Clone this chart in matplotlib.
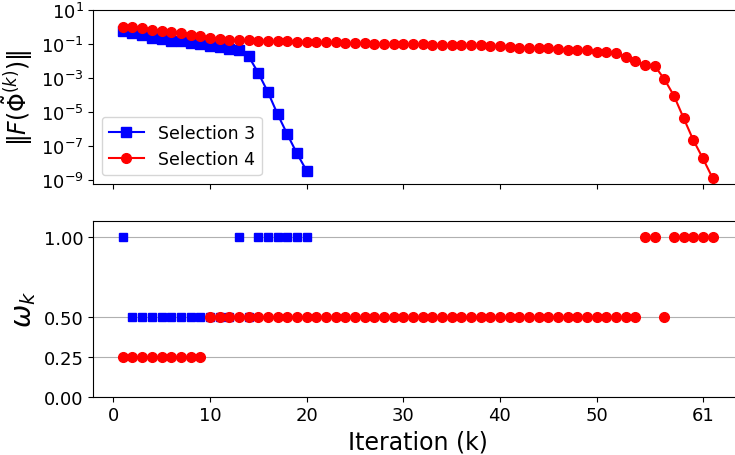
import numpy as np
import matplotlib
matplotlib.use('Agg')
import matplotlib.pyplot as plt

# residual norms per iteration
sel3_res = [0.59, 0.41, 0.33, 0.22, 0.19, 0.15, 0.14, 0.114, 0.10, 0.078,
            0.062, 0.051, 0.044, 0.019, 2.0e-3, 1.5e-4, 7.6e-6, 5.1e-7, 3.8e-8, 3.7e-9]
sel4_res = [1.0, 0.93, 0.81, 0.67, 0.59, 0.47, 0.41, 0.33, 0.28, 0.23,
            0.18, 0.17, 0.165, 0.16, 0.155, 0.15, 0.14, 0.14, 0.135, 0.13,
            0.13, 0.122, 0.12, 0.111, 0.11, 0.108, 0.101, 0.10, 0.097, 0.096,
            0.093, 0.092, 0.089, 0.088, 0.085, 0.084, 0.081, 0.080, 0.077, 0.072,
            0.068, 0.060, 0.059, 0.056, 0.055, 0.051, 0.045, 0.045, 0.042, 0.035,
            0.035, 0.028, 0.016, 0.0094, 0.0059, 0.0052, 8.7e-4, 9.1e-5, 4.5e-6, 2.3e-7,
            1.9e-8, 1.35e-9]

# step sizes omega_k
sel3_omega = [1.0, 0.5, 0.5, 0.5, 0.5, 0.5, 0.5, 0.5, 0.5, 0.5,
              0.5, 0.5, 1.0, 0.5, 1.0, 1.0, 1.0, 1.0, 1.0, 1.0]
sel4_omega = [0.25] * 9 + [0.5] * 45 + [1.0, 1.0, 0.5, 1.0, 1.0, 1.0, 1.0, 1.0]

iters3 = np.arange(1, len(sel3_res) + 1)
iters4 = np.arange(1, len(sel4_res) + 1)

fig = plt.figure(figsize=(7.35, 4.56), dpi=100)
ax1 = fig.add_axes([0.127, 0.5943, 0.8826, 0.3822])
ax2 = fig.add_axes([0.127, 0.1279, 0.8826, 0.386], sharex=ax1)

ax1.semilogy(iters3, sel3_res, 's-', color='blue', markersize=6.5, label='Selection 3')
ax1.semilogy(iters4, sel4_res, 'o-', color='red', markersize=7, label='Selection 4')
ax1.set_ylim(6e-10, 10)
ax1.set_yticks([1e1, 1e-1, 1e-3, 1e-5, 1e-7, 1e-9])
ax1.minorticks_off()
ax1.set_ylabel(r'$\|F(\tilde{\Phi}^{(k)})\|$', fontsize=17)
ax1.tick_params(labelsize=13, labelbottom=False)
ax1.legend(loc='lower left', fontsize=12.5)

ax2.plot(iters3, sel3_omega, 's', color='blue', markersize=6, linestyle='none')
ax2.plot(iters4, sel4_omega, 'o', color='red', markersize=7, linestyle='none')
ax2.set_ylim(0, 1.1)
ax2.set_yticks([0.0, 0.25, 0.5, 1.0])
ax2.yaxis.grid(True, color='#b0b0b0')
ax2.set_axisbelow(True)
ax2.set_ylabel(r'$\omega_k$', fontsize=20)
ax2.set_xlabel('Iteration (k)', fontsize=17)
ax2.set_xticks([0, 10, 20, 30, 40, 50, 61])
ax2.set_xlim(-2.05, 65.05)
ax2.tick_params(labelsize=13)

plt.savefig('out.png', dpi=100)
plt.close()
